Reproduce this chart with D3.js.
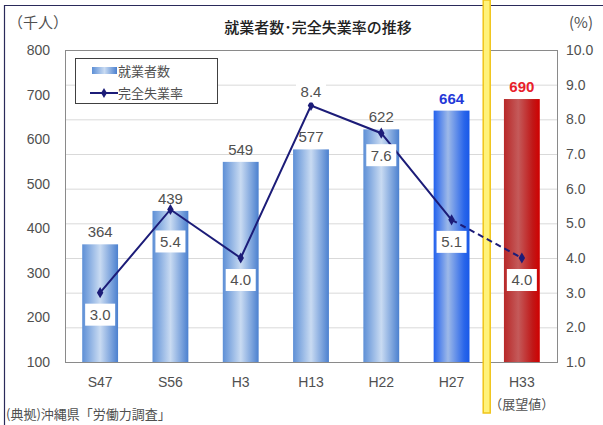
<!DOCTYPE html>
<html>
<head>
<meta charset="utf-8">
<script src="https://cdn.jsdelivr.net/npm/d3@7"></script>
<style>
  body { margin: 0; background: #fff; }
  text { font-family: "Liberation Sans", "Noto Sans CJK JP", sans-serif; fill: #505050; }
  .jp { font-family: "Noto Sans CJK JP", sans-serif; }
</style>
</head>
<body>
<svg width="603" height="425"></svg>
<script>
// data
var years = ["S47", "S56", "H3", "H13", "H22", "H27", "H33"];
var workers = [364, 439, 549, 577, 622, 664, 690];
var rates = [3.0, 5.4, 4.0, 8.4, 7.6, 5.1, 4.0];
var leftTicks = [100, 200, 300, 400, 500, 600, 700, 800];
var rightTicks = [1, 2, 3, 4, 5, 6, 7, 8, 9, 10];

var svg = d3.select("svg");
var plotL = 65, plotR = 557, plotT = 50, plotB = 362;

// scales
var x = d3.scaleBand()
  .domain(years)
  .range([plotL, plotR])
  .paddingInner(0.49)
  .paddingOuter(0.245);

var yL = d3.scaleLinear().domain([100, 800]).range([plotB, plotT]);
var yR = d3.scaleLinear().domain([1, 10]).range([plotB, plotT]);

// gradients
var defs = svg.append("defs");
function grad(id, stops) {
  var g = defs.append("linearGradient").attr("id", id)
    .attr("x1", "0%").attr("x2", "100%").attr("y1", "0%").attr("y2", "0%");
  stops.forEach(s => g.append("stop").attr("offset", s[0]).attr("stop-color", s[1]));
}
grad("gBlue", [["0%", "#5d8fd6"], ["50%", "#c9dbf2"], ["100%", "#4b80cf"]]);
grad("gBright", [["0%", "#2261ee"], ["40%", "#9db9e8"], ["85%", "#2a66ea"], ["100%", "#1858e8"]]);
grad("gRed", [["0%", "#b82828"], ["40%", "#c45a5a"], ["80%", "#c01818"], ["100%", "#d00000"]]);

// frame
svg.append("line").attr("x1", 4).attr("x2", 603).attr("y1", 5.5).attr("y2", 5.5)
  .attr("stroke", "#2a2a5a").attr("stroke-width", 1.2);
svg.append("line").attr("x1", 4.5).attr("x2", 4.5).attr("y1", 5).attr("y2", 425)
  .attr("stroke", "#2a2a5a").attr("stroke-width", 1.2);

// gridlines (right axis)
svg.append("g").selectAll("line")
  .data(rightTicks.slice(1, -1))
  .enter().append("line")
    .attr("x1", plotL).attr("x2", plotR)
    .attr("y1", d => yR(d) + 0.5).attr("y2", d => yR(d) + 0.5)
    .attr("stroke", "#d9d9d9");

// plot border
svg.append("rect")
  .attr("x", plotL + 0.5).attr("y", plotT + 0.5)
  .attr("width", plotR - plotL).attr("height", plotB - plotT)
  .attr("fill", "none").attr("stroke", "#8a8a8a");

// bars
var fills = ["gBlue", "gBlue", "gBlue", "gBlue", "gBlue", "gBright", "gRed"];
svg.append("g").selectAll("rect")
  .data(workers)
  .enter().append("rect")
    .attr("x", (d, i) => x(years[i]))
    .attr("y", d => yL(d))
    .attr("width", x.bandwidth())
    .attr("height", d => plotB - yL(d))
    .attr("fill", (d, i) => "url(#" + fills[i] + ")");

// yellow separator
var sepX = (x("H27") + x.bandwidth() + x("H33")) / 2;
svg.append("rect")
  .attr("x", sepX - 3.5).attr("y", 0).attr("width", 7).attr("height", 413)
  .attr("fill", "#fff27a").attr("stroke", "#f0c419").attr("stroke-width", 1.5);

// bar labels
var barLabelColor = ["#505050", "#505050", "#505050", "#505050", "#505050", "#2438d8", "#e8202a"];
svg.append("g").selectAll("text")
  .data(workers)
  .enter().append("text")
    .attr("x", (d, i) => x(years[i]) + x.bandwidth() / 2)
    .attr("y", d => yL(d) - 7)
    .attr("text-anchor", "middle")
    .style("font-size", "15px")
    .style("fill", (d, i) => barLabelColor[i])
    .style("font-weight", (d, i) => i >= 5 ? "bold" : "normal")
    .text(d => d);

// line
var cx = (d, i) => x(years[i]) + x.bandwidth() / 2;
var pts = rates.map((d, i) => [cx(d, i), yR(d)]);
svg.append("path")
  .attr("d", d3.line()(pts.slice(0, 6)))
  .attr("fill", "none").attr("stroke", "#1c1c78").attr("stroke-width", 2);
svg.append("path")
  .attr("d", d3.line()(pts.slice(5)))
  .attr("fill", "none").attr("stroke", "#1c1c78").attr("stroke-width", 2)
  .attr("stroke-dasharray", "6,4");
svg.append("g").selectAll("path")
  .data(pts)
  .enter().append("path")
    .attr("d", d3.symbol().type(d3.symbolDiamond).size(36))
    .attr("transform", d => "translate(" + d[0] + "," + d[1] + ")")
    .attr("fill", "#1c1c78");

// rate labels
var rateDy = { S56: 32, H13: -14 };
var rl = svg.append("g").selectAll("g")
  .data(rates)
  .enter().append("g")
    .attr("transform", (d, i) => "translate(" + cx(d, i) + "," + (yR(d) + (rateDy[years[i]] !== undefined ? rateDy[years[i]] : 22)) + ")");
rl.append("rect")
  .attr("x", -15).attr("y", -11).attr("width", 30).attr("height", 22)
  .attr("fill", "#fff");
rl.append("text")
  .attr("text-anchor", "middle").attr("dy", "0.36em")
  .style("font-size", "15px")
  .text(d => d.toFixed(1));

// left axis labels
svg.append("g").selectAll("text")
  .data(leftTicks)
  .enter().append("text")
    .attr("x", 50).attr("y", d => yL(d)).attr("dy", "0.36em")
    .attr("text-anchor", "end")
    .style("font-size", "14px")
    .text(d => d);

// right axis labels
svg.append("g").selectAll("text")
  .data(rightTicks)
  .enter().append("text")
    .attr("x", 566).attr("y", d => yR(d)).attr("dy", "0.36em")
    .style("font-size", "14px")
    .text(d => d.toFixed(1));

// x labels
svg.append("g").selectAll("text")
  .data(years)
  .enter().append("text")
    .attr("x", d => x(d) + x.bandwidth() / 2).attr("y", 387)
    .attr("text-anchor", "middle")
    .style("font-size", "14px")
    .text(d => d);
svg.append("text").attr("class", "jp")
  .attr("x", x("H33") + x.bandwidth() / 2).attr("y", 409)
  .attr("text-anchor", "middle").style("font-size", "13px")
  .text("（展望値）");

// titles
svg.append("text").attr("class", "jp")
  .attr("x", 318).attr("y", 33).attr("text-anchor", "middle")
  .style("font-size", "15px").style("fill", "#222").style("font-weight", "500")
  .text("就業者数･完全失業率の推移");
svg.append("text").attr("class", "jp")
  .attr("x", 8).attr("y", 28).style("font-size", "15px")
  .text("（千人）");
svg.append("text").attr("class", "jp")
  .attr("x", 569).attr("y", 28).style("font-size", "15px")
  .text("(%)");
svg.append("text").attr("class", "jp")
  .attr("x", 6).attr("y", 419).style("font-size", "13px")
  .text("(典拠)沖縄県「労働力調査」");

// legend
var lg = svg.append("g");
lg.append("rect").attr("x", 75.5).attr("y", 58.5).attr("width", 142).attr("height", 45)
  .attr("fill", "#fff").attr("stroke", "#404040");
lg.append("rect").attr("x", 92).attr("y", 67).attr("width", 25).attr("height", 7)
  .attr("fill", "url(#gBlue)");
lg.append("text").attr("class", "jp").attr("x", 118).attr("y", 71).attr("dy", "0.36em")
  .style("font-size", "13px").text("就業者数");
lg.append("line").attr("x1", 90).attr("x2", 118).attr("y1", 93).attr("y2", 93)
  .attr("stroke", "#1c1c78").attr("stroke-width", 2);
lg.append("path").attr("d", d3.symbol().type(d3.symbolDiamond).size(30))
  .attr("transform", "translate(104,93)").attr("fill", "#1c1c78");
lg.append("text").attr("class", "jp").attr("x", 118).attr("y", 93).attr("dy", "0.36em")
  .style("font-size", "13px").text("完全失業率");
</script>
</body>
</html>
